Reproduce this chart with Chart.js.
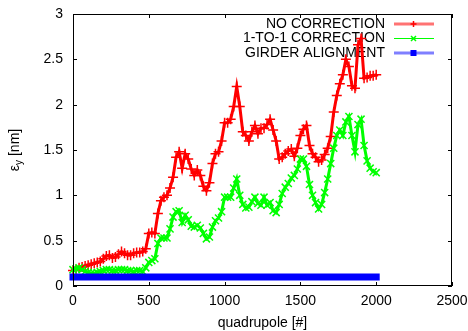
<!DOCTYPE html>
<html>
<head>
<meta charset="utf-8">
<script src="https://cdn.jsdelivr.net/npm/chart.js@4.4.0/dist/chart.umd.min.js"></script>
<style>
  html, body { margin: 0; padding: 0; background: #fff; }
  canvas { display: block; }
</style>
</head>
<body>
<canvas id="chart" width="468" height="331"></canvas>
<script>
const quadStep = 20;
const seriesLabels = ["NO CORRECTION", "1-TO-1 CORRECTION", "GIRDER ALIGNMENT"];
const seriesColors = ["#ff0000", "#00ff00", "#0000ff"];

const noCorrection = [
    0.17, 0.18, 0.20, 0.21, 0.22, 0.23, 0.24, 0.25, 0.26, 0.27,
    0.30, 0.33, 0.34, 0.31, 0.32, 0.35, 0.38, 0.36, 0.34, 0.34,
    0.36, 0.37, 0.37, 0.38, 0.41, 0.58, 0.59, 0.58, 0.80, 0.94,
    0.98, 1.00, 1.08, 1.20, 1.42, 1.48, 1.30, 1.46, 1.40, 1.29,
    1.22, 1.28, 1.22, 1.10, 1.05, 1.14, 1.35, 1.46, 1.48, 1.60,
    1.80, 1.80, 1.84, 1.98, 2.20, 1.98, 1.70, 1.66, 1.60, 1.70,
    1.77, 1.68, 1.74, 1.74, 1.78, 1.84, 1.72, 1.60, 1.40, 1.42,
    1.46, 1.49, 1.51, 1.43, 1.52, 1.66, 1.73, 1.77, 1.55, 1.46,
    1.42, 1.37, 1.39, 1.45, 1.52, 1.65, 1.92, 2.10, 2.23, 2.33,
    2.50, 2.42, 2.21, 2.18, 2.66, 2.73, 2.29, 2.30, 2.32, 2.32,
    2.33
];
const oneToOne = [
    0.18, 0.19, 0.20, 0.18, 0.16, 0.15, 0.14, 0.14, 0.15, 0.16,
    0.17, 0.18, 0.18, 0.17, 0.17, 0.18, 0.18, 0.18, 0.17, 0.17,
    0.16, 0.17, 0.17, 0.16, 0.20, 0.26, 0.28, 0.30, 0.47, 0.53,
    0.53, 0.53, 0.63, 0.76, 0.82, 0.83, 0.70, 0.78, 0.73, 0.66,
    0.65, 0.67, 0.64, 0.58, 0.52, 0.54, 0.65, 0.72, 0.75, 0.82,
    0.98, 0.98, 0.98, 1.08, 1.18, 1.00, 0.90, 0.86, 0.87, 0.93,
    0.98, 0.91, 0.89, 0.98, 0.89, 0.92, 0.83, 0.81, 0.90, 1.02,
    1.09, 1.13, 1.19, 1.22, 1.29, 1.40, 1.40, 1.32, 1.12, 1.00,
    0.92, 0.85, 0.90, 1.03, 1.18, 1.35, 1.52, 1.66, 1.72, 1.66,
    1.81, 1.87, 1.66, 1.48, 1.78, 1.84, 1.55, 1.38, 1.30, 1.26,
    1.25
];
const girderQuads = [0, 500, 1000, 1500, 2000];
const girderAlignment = [0.10, 0.10, 0.10, 0.10, 0.10];

const xTicks = [0, 500, 1000, 1500, 2000, 2500];
const yTicks = [0, 0.5, 1, 1.5, 2, 2.5, 3];

const FONT = '14px "Liberation Sans", Arial, sans-serif';
const tickLen = 4;

function toPoints(xs, ys) {
    return ys.map(function (v, i) { return {x: xs[i], y: v}; });
}
const quads = noCorrection.map(function (_, i) { return i * quadStep; });

// frame, inward ticks, tick labels, axis titles and the gnuplot-like key
const gnuplotFrame = {
    id: 'gnuplotFrame',
    beforeDatasetsDraw(chart) {
        const ctx = chart.ctx;
        const a = chart.chartArea;
        ctx.save();
        ctx.font = FONT;
        ctx.textAlign = 'right';
        ctx.textBaseline = 'middle';
        const textRight = a.right - 67;
        chart.data.datasets.forEach(function (ds, i) {
            const rowY = a.top + 10 + i * 14.5;
            ctx.fillStyle = '#000';
            ctx.fillText(ds.label, textRight, rowY);
            const x0 = textRight + 9, x1 = textRight + 49, mx = textRight + 28.5;
            ctx.strokeStyle = ds.legendLine;
            ctx.lineWidth = ds.legendWidth;
            ctx.beginPath();
            ctx.moveTo(x0, rowY); ctx.lineTo(x1, rowY);
            ctx.stroke();
            ctx.strokeStyle = ds.borderColor;
            ctx.fillStyle = ds.borderColor;
            ctx.lineWidth = 1.5;
            ctx.beginPath();
            if (ds.pointStyle === 'cross') {
                ctx.moveTo(mx - 3, rowY); ctx.lineTo(mx + 3, rowY);
                ctx.moveTo(mx, rowY - 3); ctx.lineTo(mx, rowY + 3);
                ctx.stroke();
            } else if (ds.pointStyle === 'crossRot') {
                ctx.moveTo(mx - 2.5, rowY - 2.5); ctx.lineTo(mx + 2.5, rowY + 2.5);
                ctx.moveTo(mx - 2.5, rowY + 2.5); ctx.lineTo(mx + 2.5, rowY - 2.5);
                ctx.stroke();
            } else {
                ctx.fillRect(mx - 3, rowY - 3, 6, 6);
            }
        });
        ctx.restore();
    },
    afterDatasetsDraw(chart) {
        const ctx = chart.ctx;
        const a = chart.chartArea;
        const xs = chart.scales.x, ys = chart.scales.y;
        ctx.save();
        ctx.strokeStyle = '#000';
        ctx.lineWidth = 1;
        ctx.strokeRect(a.left + 0.5, a.top + 0.5, a.width - 1, a.height - 1);
        ctx.beginPath();
        xTicks.forEach(function (v) {
            const px = Math.round(xs.getPixelForValue(v)) + 0.5;
            ctx.moveTo(px, a.bottom); ctx.lineTo(px, a.bottom - tickLen);
            ctx.moveTo(px, a.top); ctx.lineTo(px, a.top + tickLen);
        });
        yTicks.forEach(function (v) {
            const py = Math.round(ys.getPixelForValue(v)) + 0.5;
            ctx.moveTo(a.left, py); ctx.lineTo(a.left + tickLen, py);
            ctx.moveTo(a.right, py); ctx.lineTo(a.right - tickLen, py);
        });
        ctx.stroke();

        // tick labels
        ctx.font = FONT;
        ctx.fillStyle = '#000';
        ctx.textAlign = 'center';
        ctx.textBaseline = 'middle';
        xTicks.forEach(function (v) {
            ctx.fillText(String(v), xs.getPixelForValue(v), a.bottom + 15);
        });
        ctx.textAlign = 'right';
        yTicks.forEach(function (v) {
            ctx.fillText(String(v), a.left - 10, ys.getPixelForValue(v));
        });

        // x title
        ctx.textAlign = 'center';
        ctx.fillText('quadrupole [#]', (a.left + a.right) / 2, 323);

        // y title with subscript
        const subFont = '10px "Liberation Sans", Arial, sans-serif';
        const wEps = ctx.measureText('\u03b5').width;
        const wRest = ctx.measureText(' [nm]').width;
        ctx.font = subFont;
        const wSub = ctx.measureText('y').width;
        const total = wEps + wSub + wRest;
        ctx.translate(15, (a.top + a.bottom) / 2);
        ctx.rotate(-Math.PI / 2);
        ctx.textAlign = 'left';
        let cx = -total / 2;
        ctx.font = FONT;
        ctx.fillText('\u03b5', cx, 0);
        cx += wEps;
        ctx.font = subFont;
        ctx.fillText('y', cx, 4);
        cx += wSub;
        ctx.font = FONT;
        ctx.fillText(' [nm]', cx, 0);
        ctx.restore();
    }
};

new Chart(document.getElementById('chart'), {
    type: 'line',
    data: {
        datasets: [
            {
                label: seriesLabels[0],
                data: toPoints(quads, noCorrection),
                borderColor: seriesColors[0],
                backgroundColor: seriesColors[0],
                borderWidth: 3,
                pointStyle: 'cross',
                pointRadius: 5,
                pointBorderWidth: 1.5,
                legendLine: 'rgba(255,0,0,0.55)',
                legendWidth: 3,
                order: 3,
                clip: 5
            },
            {
                label: seriesLabels[1],
                data: toPoints(quads, oneToOne),
                borderColor: seriesColors[1],
                backgroundColor: seriesColors[1],
                borderWidth: 3,
                pointStyle: 'crossRot',
                pointRadius: 5,
                pointBorderWidth: 1.5,
                legendLine: seriesColors[1],
                legendWidth: 1,
                order: 2,
                clip: 5
            },
            {
                label: seriesLabels[2],
                data: toPoints(girderQuads, girderAlignment),
                borderColor: seriesColors[2],
                backgroundColor: seriesColors[2],
                borderWidth: 7,
                borderCapStyle: 'square',
                pointStyle: 'rect',
                pointRadius: 0,
                legendLine: 'rgba(0,0,255,0.5)',
                legendWidth: 3,
                order: 1,
                clip: 5
            }
        ]
    },
    options: {
        responsive: false,
        animation: false,
        devicePixelRatio: 1,
        layout: {autoPadding: false, padding: {left: 0, right: 16, top: 14, bottom: 0}},
        plugins: {legend: {display: false}, tooltip: {enabled: false}},
        scales: {
            x: {
                type: 'linear',
                min: 0,
                max: 2500,
                afterFit: function (scale) { scale.height = 45; },
                grid: {display: false, drawTicks: false},
                border: {display: false},
                ticks: {display: false}
            },
            y: {
                type: 'linear',
                min: 0,
                max: 3,
                afterFit: function (scale) { scale.width = 73; },
                grid: {display: false, drawTicks: false},
                border: {display: false},
                ticks: {display: false}
            }
        }
    },
    plugins: [gnuplotFrame]
});
</script>
</body>
</html>
